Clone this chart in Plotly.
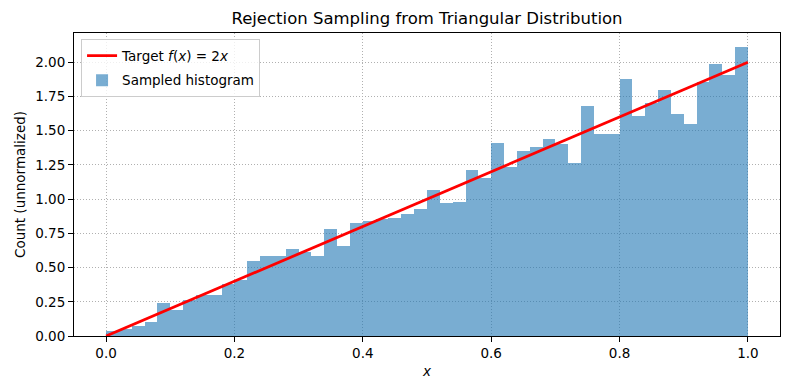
import numpy as np
import plotly.graph_objects as go

# Histogram bins (50 equal bins over [0, 1])
bin_edges = np.linspace(0.0, 1.0, 51)
bin_centers = (bin_edges[:-1] + bin_edges[1:]) / 2
bin_width = bin_edges[1] - bin_edges[0]

# Sampled histogram heights (density)
hist_values = [
    0.036, 0.050, 0.075, 0.102, 0.240, 0.190, 0.260, 0.297, 0.300, 0.377,
    0.410, 0.547, 0.584, 0.584, 0.635, 0.613, 0.584, 0.781, 0.657, 0.825,
    0.840, 0.854, 0.861, 0.890, 0.927, 1.066, 0.971, 0.978, 1.212, 1.153,
    1.409, 1.234, 1.350, 1.380, 1.438, 1.400, 1.263, 1.679, 1.474, 1.474,
    1.876, 1.606, 1.703, 1.796, 1.620, 1.547, 1.856, 1.985, 1.907, 2.109,
]

# Target density f(x) = 2x
target_x = [0.0, 1.0]
target_y = [0.0, 2.0]

x_ticks = [0.0, 0.2, 0.4, 0.6, 0.8, 1.0]
y_ticks = [0.0, 0.25, 0.5, 0.75, 1.0, 1.25, 1.5, 1.75, 2.0]

font_family = "DejaVu Sans"

fig = go.Figure()
fig.add_trace(go.Bar(
    x=bin_centers, y=hist_values, width=bin_width,
    marker=dict(color="rgba(31,119,180,0.6)", line=dict(width=0)),
    name="Sampled histogram", legendgroup="b", legendrank=2,
))
fig.add_trace(go.Scatter(
    x=target_x, y=target_y, mode="lines",
    line=dict(color="red", width=2.8),
    name="Target <i>f</i>(<i>x</i>) = 2<i>x</i>", legendgroup="a", legendrank=1,
))

axis_common = dict(
    showline=True, linecolor="black", linewidth=1, mirror=True,
    ticks="outside", ticklen=5, tickwidth=1, tickcolor="black",
    showgrid=True, gridcolor="#b0b0b0", griddash="1px,2px", gridwidth=1,
    zeroline=False,
    tickfont=dict(family=font_family, size=13.5, color="black"),
)

fig.update_layout(
    width=790, height=390,
    margin=dict(l=62, r=18, t=25, b=62),
    plot_bgcolor="white", paper_bgcolor="white",
    bargap=0,
    font=dict(family=font_family, size=13.5, color="black"),
    title=dict(text="Rejection Sampling from Triangular Distribution",
               x=0.5, xref="paper", xanchor="center", y=0.974, yanchor="middle",
               font=dict(family=font_family, size=16.5, color="black")),
    legend=dict(x=0.01, y=0.979, xanchor="left", yanchor="top",
                bgcolor="rgba(255,255,255,0.8)", bordercolor="#cccccc", borderwidth=1,
                font=dict(family=font_family, size=13.5), traceorder="grouped",
                tracegroupgap=4),
    xaxis=dict(range=[-0.05, 1.05], tickvals=x_ticks,
               ticktext=[f"{v:.1f}" for v in x_ticks],
               title=dict(text="<i>x</i>", standoff=6,
                          font=dict(family=font_family, size=13.5)),
               **axis_common),
    yaxis=dict(range=[0, 2.214], tickvals=y_ticks,
               ticktext=[f"{v:.2f}" for v in y_ticks],
               title=dict(text="Count (unnormalized)", standoff=6,
                          font=dict(family=font_family, size=13.5)),
               **axis_common),
)

fig.write_html("out.html")
